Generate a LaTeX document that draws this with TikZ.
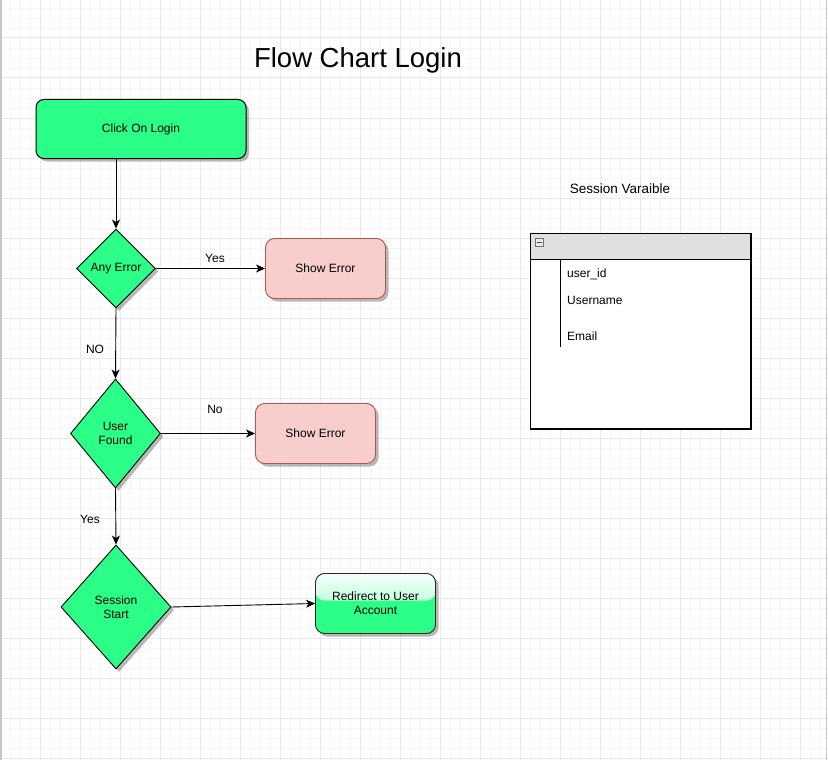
\documentclass[tikz,border=0pt]{standalone}
\usepackage{fontspec}
\setmainfont{Liberation Sans}
\usetikzlibrary{shapes.geometric,arrows.meta,shadows,calc}
\definecolor{gr}{HTML}{2CFF88}
\definecolor{pinkfill}{HTML}{F8CECC}
\definecolor{pinkdraw}{HTML}{B85450}
\definecolor{gridmajor}{HTML}{E9E9E9}
\definecolor{gridminor}{HTML}{F6F6F6}
\definecolor{hdr}{HTML}{E0E0E0}
\tikzset{
  every node/.style={font=\fontsize{12}{14}\selectfont, align=center, text=black},
  shad/.style={drop shadow={shadow xshift=3pt, shadow yshift=-3pt, fill=black, opacity=0.28}},
  startbox/.style={shad, draw=black, line width=1pt, fill=gr, rounded corners=8pt, minimum width=210pt, minimum height=59pt, inner sep=0pt},
  errbox/.style={shad, draw=pinkdraw, line width=0.9pt, fill=pinkfill, rounded corners=9pt, minimum width=120pt, minimum height=60pt, inner sep=0pt},
  dec/.style={shad, diamond, draw=black, line width=0.9pt, fill=gr, inner sep=0pt},
  glassbox/.style={shad, draw=black!85, line width=0.9pt, fill=gr, rounded corners=9pt, minimum width=120pt, minimum height=60pt, inner sep=0pt,
    path picture={\fill[top color=white!95!gr, bottom color=white!45!gr] (path picture bounding box.north west) rectangle ([yshift=3pt]path picture bounding box.east);}},
  arr/.style={draw=black, line width=0.9pt, -{Stealth[length=9pt,width=8pt,inset=2.5pt]}},
  lbl/.style={inner sep=0pt},
  minorline/.style={gridminor, line width=0.8pt},
  majorline/.style={gridmajor, line width=1pt},
  fieldtxt/.style={anchor=west, inner sep=0pt},
}
\begin{document}
\begin{tikzpicture}[x=1pt,y=-1pt]
\useasboundingbox (0,0) rectangle (828,760);
\fill[white] (0,0) rectangle (828,760);
% grid
\foreach \x in {10,20,...,820} \draw[minorline] (\x,0) -- (\x,760);
\foreach \y in {8,18,...,758} \draw[minorline] (0,\y) -- (828,\y);
\foreach \x in {40,80,...,800} \draw[majorline] (\x,0) -- (\x,760);
\foreach \y in {38,78,...,758} \draw[majorline] (0,\y) -- (828,\y);
\draw[black!22, line width=1.5pt] (0.75,0) -- (0.75,760);
\draw[black!22, line width=1.5pt] (826.5,0) -- (826.5,760);

% title
\node (title) at (358,60) {\fontsize{27.5}{33}\selectfont Flow Chart Login};

% flow
\node[startbox] (login) at (141,129) {Click On Login};
\node[dec, minimum width=79pt, minimum height=79pt] (anyerr) at (116,268.5) {Any Error};
\node[errbox] (err1) at (325.5,268.5) {Show Error};
\node[dec, minimum width=90pt, minimum height=109pt] (found) at (115.5,433.5) {User\\Found};
\node[errbox] (err2) at (315.5,433.5) {Show Error};
\node[dec, minimum width=110pt, minimum height=124pt] (session) at (116,607) {Session\\Start};
\node[glassbox] (redirect) at (375.5,603.5) {Redirect to User\\Account};

\draw[arr] (login.south -| anyerr.north) -- (anyerr.north);
\draw[arr] (anyerr.east) -- (err1.west);
\draw[arr] (anyerr.south) -- (found.north);
\draw[arr] (found.east) -- (err2.west);
\draw[arr] (found.south) -- (session.north);
\draw[arr] (session.east) -- (redirect.west);

\node[lbl] (lyes1) at (215,258) {Yes};
\node[lbl] (lno1) at (95,349) {NO};
\node[lbl] (lno2) at (215,409) {No};
\node[lbl] (lyes2) at (90,519) {Yes};

% session variable table
\node (sesslbl) at (620,189) {\fontsize{13.5}{16}\selectfont Session Varaible};
\node[draw=black, line width=0.9pt, fill=white, minimum width=220pt, minimum height=195pt, inner sep=0pt] (tbl) at (640.5,331) {};
\fill[hdr] ([xshift=0.5pt,yshift=-0.5pt]tbl.north west) rectangle ([xshift=-0.5pt]tbl.east |- 259.5,259.5);
\draw[black, line width=0.9pt] (tbl.north west) rectangle (tbl.south east);
\draw[black, line width=0.9pt] (tbl.west |- 259.5,259.5) -- (tbl.east |- 259.5,259.5);
\node[draw=black!55, fill=black!8, line width=0.6pt, minimum width=8pt, minimum height=8pt, inner sep=0pt] (minus) at (539.5,242.5) {};
\draw[black!70, line width=0.8pt] ([xshift=2pt]minus.west) -- ([xshift=-2pt]minus.east);
\coordinate (vtop) at (560.5,259.5);
\coordinate (vbot) at (560.5,347);
\draw[black, line width=1pt] (vtop) -- (vbot);
\node[fieldtxt] (f1) at (567,274) {user\_id};
\node[fieldtxt] (f2) at (567,300) {Username};
\node[fieldtxt] (f3) at (567,336) {Email};
\end{tikzpicture}
\end{document}
